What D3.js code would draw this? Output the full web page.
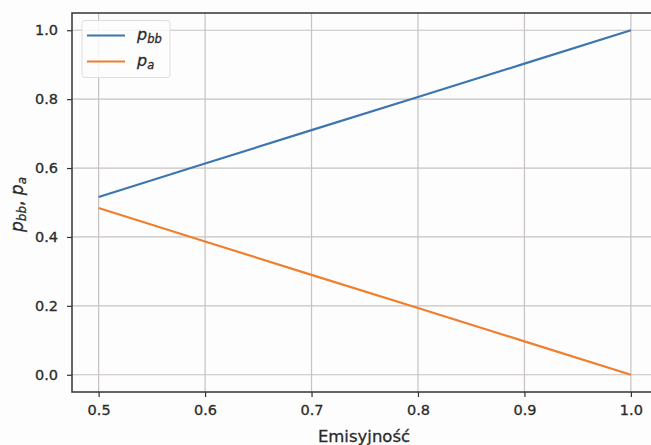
<!DOCTYPE html>
<html>
<head>
<meta charset="utf-8">
<script src="https://cdn.jsdelivr.net/npm/d3@7"></script>
<style>
  body { margin: 0; background: #fff; }
  svg { display: block; font-family: "DejaVu Sans", sans-serif; }
</style>
</head>
<body>
<script>
// emissivity values and the two series
const emis = [0.5, 0.6, 0.7, 0.8, 0.9, 1.0];
const pbb = [0.516, 0.613, 0.710, 0.806, 0.903, 1.0];
const pa = [0.484, 0.387, 0.290, 0.194, 0.097, 0.0];
const xTicks = [0.5, 0.6, 0.7, 0.8, 0.9, 1.0];
const yTicks = [0.0, 0.2, 0.4, 0.6, 0.8, 1.0];

const width = 651;
const height = 445;
const margin = { left: 72, top: 13, bottom: 53 };

const x = d3.scaleLinear().domain([0.475, 1.025]).range([margin.left, 657.5]);
const y = d3.scaleLinear().domain([-0.05, 1.05]).range([height - margin.bottom, margin.top]);

const svg = d3.select("body").append("svg")
  .attr("width", width)
  .attr("height", height);

svg.append("rect").attr("width", width).attr("height", height).attr("fill", "#fdfdfd");

const [x0, x1] = x.range();
const [y0, y1] = y.range();

// grid
svg.append("g")
  .selectAll("line.gx")
  .data(xTicks)
  .join("line")
  .attr("x1", d => x(d)).attr("x2", d => x(d))
  .attr("y1", y1).attr("y2", y0)
  .attr("stroke", "#c8c2c2").attr("stroke-width", 1.2);

svg.append("g")
  .selectAll("line.gy")
  .data(yTicks)
  .join("line")
  .attr("x1", x0).attr("x2", x1)
  .attr("y1", d => y(d)).attr("y2", d => y(d))
  .attr("stroke", "#c8c2c2").attr("stroke-width", 1.2);

// axes
const xAxis = svg.append("g")
  .attr("transform", `translate(0,${y0})`)
  .call(d3.axisBottom(x).tickValues(xTicks).tickFormat(d3.format(".1f")).tickSize(5).tickPadding(8));
const yAxis = svg.append("g")
  .attr("transform", `translate(${x0},0)`)
  .call(d3.axisLeft(y).tickValues(yTicks).tickFormat(d3.format(".1f")).tickSize(5).tickPadding(9));

[xAxis, yAxis].forEach(g => {
  g.select(".domain").remove();
  g.selectAll("line").attr("stroke", "#333").attr("stroke-width", 1.2);
  g.selectAll("text")
    .attr("fill", "#2b2b2b").attr("stroke", "#2b2b2b").attr("stroke-width", 0.3)
    .attr("font-size", 14.5).attr("font-family", "DejaVu Sans");
});

// spines (left, top, bottom; right is outside the picture)
svg.append("path")
  .attr("d", `M${x1},${y1}H${x0}V${y0}H${x1}`)
  .attr("fill", "none").attr("stroke", "#333").attr("stroke-width", 1.5);

// lines
const line = d3.line().x(d => x(d[0])).y(d => y(d[1]));
const series = [
  { name: "bb", values: pbb, color: "#3b76b1" },
  { name: "a", values: pa, color: "#ef7f2c" }
];
svg.append("g")
  .selectAll("path")
  .data(series)
  .join("path")
  .attr("d", s => line(emis.map((e, i) => [e, s.values[i]])))
  .attr("fill", "none")
  .attr("stroke", s => s.color)
  .attr("stroke-width", 2.2);

// legend
const legend = svg.append("g").attr("transform", "translate(82,20.5)");
legend.append("rect")
  .attr("width", 88).attr("height", 57).attr("rx", 3)
  .attr("fill", "#fdfdfd").attr("fill-opacity", 0.85)
  .attr("stroke", "#ddd");
series.forEach((s, i) => {
  const ly = 15 + i * 26;
  legend.append("line")
    .attr("x1", 5).attr("x2", 43).attr("y1", ly).attr("y2", ly)
    .attr("stroke", s.color).attr("stroke-width", 2.2);
  const t = legend.append("text")
    .attr("x", 55).attr("y", ly + 4)
    .attr("font-size", 16).attr("font-style", "italic")
    .attr("fill", "#2b2b2b").attr("stroke", "#2b2b2b").attr("stroke-width", 0.3);
  t.append("tspan").text("p");
  t.append("tspan").attr("font-size", 11.5).attr("dy", 3).text(s.name);
});

// axis labels
svg.append("text")
  .attr("x", 364).attr("y", 442)
  .attr("text-anchor", "middle").attr("font-size", 16.5)
  .attr("fill", "#2b2b2b").attr("stroke", "#2b2b2b").attr("stroke-width", 0.3)
  .text("Emisyjność");

const yl = svg.append("text")
  .attr("transform", `translate(23,${(y0 + y1) / 2 + 2}) rotate(-90)`)
  .attr("text-anchor", "middle").attr("font-size", 17)
  .attr("fill", "#2b2b2b").attr("stroke", "#2b2b2b").attr("stroke-width", 0.3)
  .attr("font-style", "italic");
yl.append("tspan").text("p");
yl.append("tspan").attr("font-size", 12).attr("dy", 3).text("bb");
yl.append("tspan").attr("dy", -3).attr("font-style", "normal").text(", ");
yl.append("tspan").text("p");
yl.append("tspan").attr("font-size", 12).attr("dy", 3).text("a");
</script>
</body>
</html>
